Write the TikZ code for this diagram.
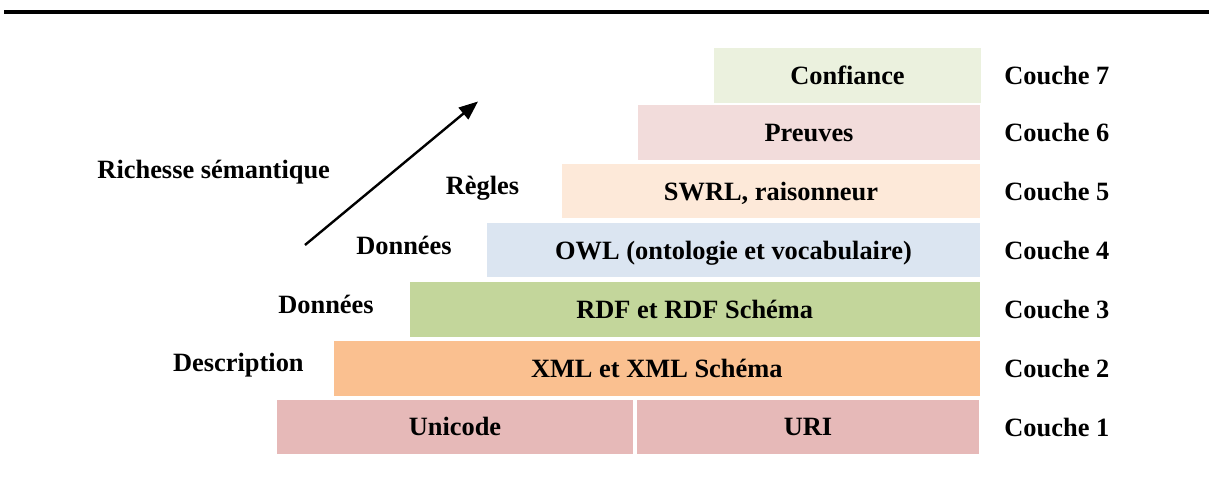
\documentclass[tikz,border=0pt]{standalone}
\usepackage{fontspec}
\setmainfont{Liberation Serif}
\usetikzlibrary{arrows.meta}
\definecolor{c7}{HTML}{EBF1DE}
\definecolor{c6}{HTML}{F2DCDB}
\definecolor{c5}{HTML}{FDE9D9}
\definecolor{c4}{HTML}{DBE5F1}
\definecolor{c3}{HTML}{C3D69B}
\definecolor{c2}{HTML}{FAC090}
\definecolor{c1}{HTML}{E6B9B8}
\tikzset{
  layer/.style={draw=none, inner sep=0pt, minimum height=27.3pt,
    text height=11.5pt, text depth=2.5pt, font=\fontsize{13.2}{15}\selectfont\bfseries},
  couche/.style={anchor=base west, inner sep=0pt, font=\fontsize{13.2}{15}\selectfont\bfseries},
  side/.style={anchor=base, inner sep=0pt, font=\fontsize{13.2}{15}\selectfont\bfseries},
}
\begin{document}
\begin{tikzpicture}[x=0.5pt, y=-0.5pt]
\useasboundingbox (0,0) rectangle (1209,485);
\draw[line width=1.75pt] (4,12) coordinate (tl) -- (1209,12) coordinate (tr);
% layers
\node[layer, fill=c7, minimum width=133.5pt] (l7) at (847.5,75.35) {Confiance};
\node[layer, fill=c6, minimum width=171pt] (l6) at (809,132.25) {Preuves};
\node[layer, fill=c5, minimum width=209pt] (l5) at (771,191.15) {SWRL, raisonneur};
\node[layer, fill=c4, minimum width=246.5pt] (l4) at (733.5,250.2) {OWL (ontologie et vocabulaire)};
\node[layer, fill=c3, minimum width=284.75pt] (l3) at (694.75,309.5) {RDF et RDF Schéma};
\node[layer, fill=c2, minimum width=322.75pt] (l2) at (656.75,368.35) {XML et XML Schéma};
\node[layer, fill=c1, minimum width=178pt] (l1a) at (455,427) {Unicode};
\node[layer, fill=c1, minimum width=171pt] (l1b) at (808,427) {URI};
% couche labels
\node[couche] (k7) at (1004,84.3) {Couche 7};
\node[couche] (k6) at (1004,141.3) {Couche 6};
\node[couche] (k5) at (1004,200.2) {Couche 5};
\node[couche] (k4) at (1004,259.2) {Couche 4};
\node[couche] (k3) at (1004,318.5) {Couche 3};
\node[couche] (k2) at (1004,377.4) {Couche 2};
\node[couche] (k1) at (1004,436.5) {Couche 1};
% side labels
\node[side] (rs) at (213.7,179) {Richesse sémantique};
\node[side] (rg) at (482.5,195) {Règles};
\node[side] (d1) at (404,254.5) {Données};
\node[side] (d2) at (326,313.3) {Données};
\node[side] (de) at (238.4,371.7) {Description};
% arrow
\coordinate (a0) at (305,245);
\coordinate (a1) at (478,101.5);
\draw[line width=1.2pt, -{Triangle[length=9.5pt,width=7.5pt]}] (a0) -- (a1);
\end{tikzpicture}
\end{document}
